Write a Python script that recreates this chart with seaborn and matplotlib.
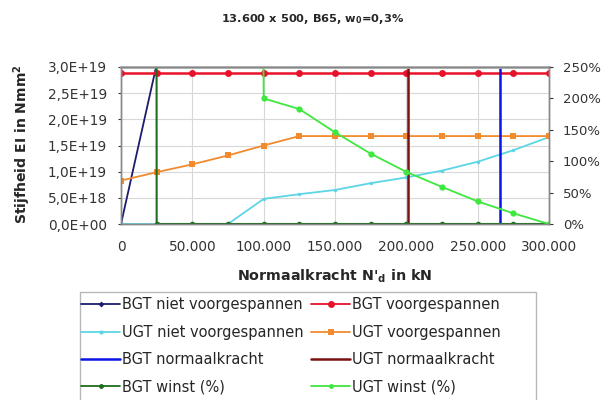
import matplotlib
matplotlib.use("Agg")
import matplotlib.pyplot as plt
import matplotlib.ticker as mticker
from matplotlib.lines import Line2D
from matplotlib.patches import Rectangle
import seaborn as sns

# ---------------- data ----------------
x_all = [0, 25000, 50000, 75000, 100000, 125000, 150000, 175000, 200000, 225000, 250000, 275000, 300000]

bgt_niet_x = [0, 25000]
bgt_niet = [0.0, 3.05e19]

bgt_voor = [2.88e19] * 13

ugt_niet = [0, 0, 0, 0, 0.48e19, 0.57e19, 0.65e19, 0.78e19, 0.89e19, 1.02e19, 1.19e19, 1.41e19, 1.66e19]

ugt_voor = [0.83e19, 0.99e19, 1.14e19, 1.31e19, 1.50e19, 1.68e19, 1.68e19, 1.68e19, 1.68e19, 1.68e19, 1.68e19, 1.68e19, 1.68e19]

bgt_normaal_x = [266000, 266000]
ugt_normaal_x = [201000, 201000]
normaal_y = [0.0, 3.0e19]

bgt_winst = [100000, 0, 0, 0, 0, 0, 0, 0, 0, 0, 0, 0, 0]

ugt_winst_x = [75000, 100000, 125000, 150000, 175000, 200000, 225000, 250000, 275000, 300000]
ugt_winst = [10000, 200, 183, 146, 112, 83, 59, 36, 17, 0]

labels = ["BGT niet voorgespannen", "BGT voorgespannen",
          "UGT niet voorgespannen", "UGT voorgespannen",
          "BGT normaalkracht", "UGT normaalkracht",
          "BGT winst (%)", "UGT winst (%)"]

# ---------------- style ----------------
sns.set_style("white")
plt.rcParams['font.family'] = ['DejaVu Sans']
plt.rcParams['mathtext.fontset'] = 'dejavusans'
plt.rcParams['mathtext.default'] = 'bf'

c_navy = "#1c1c70"
c_red = "#e8132b"
c_cyan = "#5cd6e6"
c_orange = "#f28a2e"
c_blue = "#0a14e6"
c_dred = "#7a1010"
c_dgreen = "#1f6e1f"
c_lgreen = "#3ee83e"

W, H = 611, 400
fig = plt.figure(figsize=(W / 100, H / 100), dpi=100)
ax = fig.add_axes([121 / W, 1 - 224 / H, 428 / W, 157 / H])
ax2 = ax.twinx()

lw = 1.3
sns.lineplot(x=bgt_niet_x, y=bgt_niet, ax=ax, color=c_navy, lw=lw, marker="D", markersize=3, markeredgewidth=0)
sns.lineplot(x=x_all, y=bgt_voor, ax=ax, color=c_red, lw=1.8, marker="o", markersize=5, markeredgewidth=0)
sns.lineplot(x=x_all, y=ugt_niet, ax=ax, color=c_cyan, lw=lw, marker="o", markersize=2.5, markeredgewidth=0)
sns.lineplot(x=x_all, y=ugt_voor, ax=ax, color=c_orange, lw=lw, marker="s", markersize=5, markeredgewidth=0)
sns.lineplot(x=bgt_normaal_x, y=normaal_y, ax=ax, color=c_blue, lw=1.8, estimator=None, sort=False)
sns.lineplot(x=ugt_normaal_x, y=normaal_y, ax=ax, color=c_dred, lw=1.8, estimator=None, sort=False)
sns.lineplot(x=x_all, y=bgt_winst, ax=ax2, color=c_dgreen, lw=1.5, marker="o", markersize=4, markeredgewidth=0)
sns.lineplot(x=ugt_winst_x, y=ugt_winst, ax=ax2, color=c_lgreen, lw=lw, marker="o", markersize=4.5, markeredgewidth=0)

ax.set_xlim(0, 300000)
ax.set_ylim(0, 3.0e19)
ax2.set_ylim(0, 250)

ax.xaxis.set_major_locator(mticker.MultipleLocator(50000))
ax.yaxis.set_major_locator(mticker.MultipleLocator(5e18))
ax2.yaxis.set_major_locator(mticker.MultipleLocator(50))
ax.xaxis.set_major_formatter(mticker.FuncFormatter(lambda v, p: f"{v:,.0f}".replace(",", ".")))
ax.yaxis.set_major_formatter(mticker.FuncFormatter(lambda v, p: f"{v:.1E}".replace(".", ",")))
ax2.yaxis.set_major_formatter(mticker.FuncFormatter(lambda v, p: f"{int(round(v))}%"))

ax.grid(True, color="#d8d8d8", lw=0.8)
ax.set_axisbelow(True)
for a in (ax, ax2):
    for s in a.spines.values():
        s.set_color("#888888")
        s.set_linewidth(1.0)
ax.spines['top'].set_color("#b0b0b0")
ax.spines['top'].set_linewidth(2.0)

ax.tick_params(axis='x', labelsize=9.8, colors="#333333", length=0, pad=11.5)
ax.tick_params(axis='y', labelsize=9.8, colors="#333333", length=2, pad=8)
ax2.tick_params(axis='y', labelsize=9.5, colors="#333333", length=3, pad=7)

ax.set_xlabel("Normaalkracht N'$_\\mathbf{d}$ in kN", fontsize=10.3, fontweight='bold')
ax.xaxis.set_label_coords(0.5, (224 - 276) / 157)
ax.xaxis.label.set_va('center')
ax.set_ylabel("Stijfheid EI in Nmm$^\\mathbf{2}$", fontsize=10.1, fontweight='bold')
ax.yaxis.set_label_coords((22 - 121) / 428, (224 - 144) / 157)
ax.yaxis.label.set_va('center')
ax2.set_ylabel("")
fig.text(313 / W, 1 - 19 / H, "13.600 x 500, B65, w$_\\mathbf{0}$=0,3%", ha='center', va='center',
         fontsize=8.2, fontweight='bold')

# legend
handles = [
    Line2D([], [], color=c_navy, lw=lw, marker="D", markersize=3, markeredgewidth=0),
    Line2D([], [], color=c_red, lw=lw, marker="o", markersize=5, markeredgewidth=0),
    Line2D([], [], color=c_cyan, lw=lw, marker="o", markersize=3, markeredgewidth=0),
    Line2D([], [], color=c_orange, lw=lw, marker="s", markersize=4, markeredgewidth=0),
    Line2D([], [], color=c_blue, lw=1.8),
    Line2D([], [], color=c_dred, lw=1.8),
    Line2D([], [], color=c_dgreen, lw=lw, marker="o", markersize=3.5, markeredgewidth=0),
    Line2D([], [], color=c_lgreen, lw=lw, marker="o", markersize=3.5, markeredgewidth=0),
]
order = [0, 2, 4, 6, 1, 3, 5, 7]
leg = fig.legend([handles[i] for i in order], [labels[i] for i in order],
                 ncol=2, loc='upper left', bbox_to_anchor=(81 / W, 1 - 297.5 / H),
                 fontsize=10.5, frameon=False, handlelength=2.7,
                 handletextpad=0.12, columnspacing=0.5, labelspacing=0.84,
                 borderpad=0.0, borderaxespad=0)
fig.patches.append(Rectangle((80 / W, -0.05), (536 - 80) / W, 0.05 + (400 - 292) / H,
                             transform=fig.transFigure, fill=False,
                             edgecolor="#b8b8b8", lw=1.0))

fig.savefig("out.png", dpi=100)
